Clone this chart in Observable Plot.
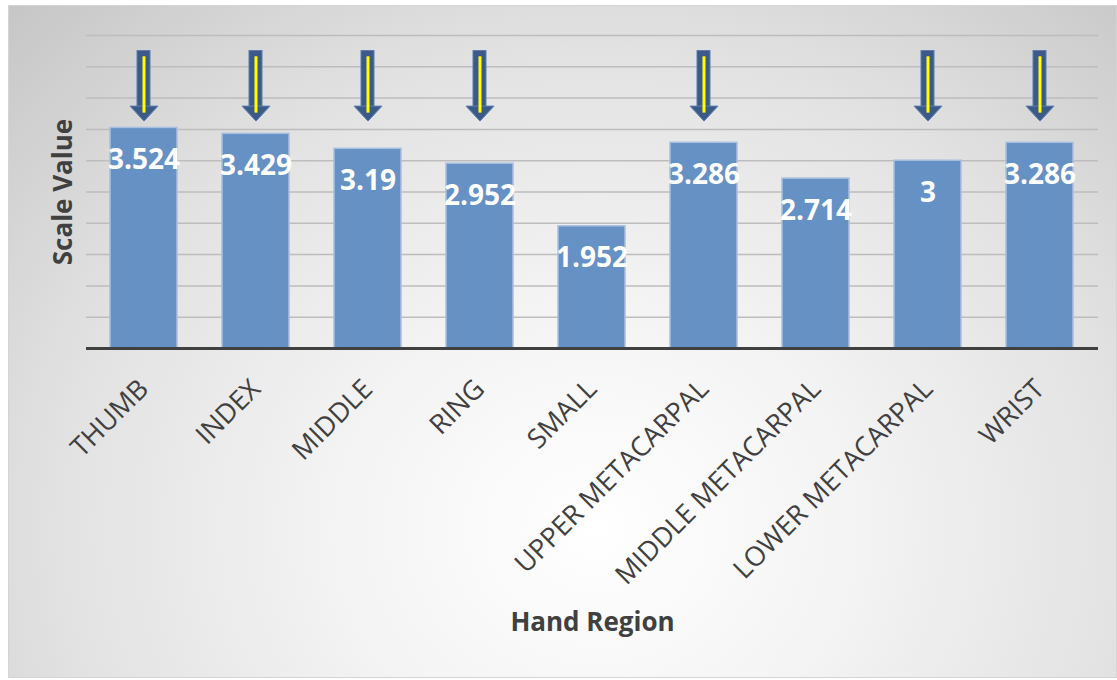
<!DOCTYPE html>
<html>
<head>
<meta charset="utf-8">
<script src="https://cdn.jsdelivr.net/npm/d3@7"></script>
<script src="https://cdn.jsdelivr.net/npm/@observablehq/plot@0.6"></script>
<style>
  html, body { margin: 0; padding: 0; background: #ffffff; }
  #wrap { position: relative; width: 1117px; height: 680px; overflow: hidden; }
  #panel {
    position: absolute; left: 8px; top: 5px; width: 1107px; height: 671px;
    border: 1px solid #d4d4d4;
    background: radial-gradient(ellipse 75% 110% at 53% 78%, #ffffff 0%, #f4f4f4 30%, #e2e2e2 65%, #c6c6c6 100%);
  }
  #chart { position: absolute; left: 0; top: 0; }
  #chart svg { background: transparent !important; }
</style>
</head>
<body>
<div id="wrap">
  <div id="panel"></div>
  <div id="chart"></div>
</div>
<script>
const categories = ["THUMB", "INDEX", "MIDDLE", "RING", "SMALL", "UPPER METACARPAL", "MIDDLE METACARPAL", "LOWER METACARPAL", "WRIST"];
const values = [3.524, 3.429, 3.19, 2.952, 1.952, 3.286, 2.714, 3, 3.286];
const arrowCategories = ["THUMB", "INDEX", "MIDDLE", "RING", "UPPER METACARPAL", "LOWER METACARPAL", "WRIST"];
const gridTicks = [0.5, 1, 1.5, 2, 2.5, 3, 3.5, 4, 4.5, 5];
const xTitle = "Hand Region";
const yTitle = "Scale Value";

const data = categories.map((c, i) => ({category: c, value: values[i]}));

const arrowFill = "#3c5a89";
const arrowStroke = "#5b7cb0";
const downHead = {
  draw(ctx) {
    ctx.moveTo(-14, -1);
    ctx.lineTo(14, -1);
    ctx.lineTo(0, 14);
    ctx.closePath();
  }
};

const chart = Plot.plot({
  width: 1117,
  height: 680,
  marginLeft: 86,
  marginRight: 19,
  marginTop: 35,
  marginBottom: 332,
  style: {background: "transparent", fontFamily: "'Open Sans', sans-serif"},
  x: {domain: categories, paddingInner: 0.4, paddingOuter: 0.2},
  y: {domain: [0, 5], axis: null},
  marks: [
    Plot.ruleY(gridTicks, {stroke: "#bdbdbd", strokeWidth: 1.5}),
    Plot.barY(data, {x: "category", y: "value", fill: "#6591c5", stroke: "#a8c0df", strokeWidth: 1.5}),
    Plot.ruleY([0], {stroke: "#404040", strokeWidth: 3}),
    Plot.text(data, {x: "category", y: "value", text: d => String(d.value), dy: 32, fill: "#ffffff", fontSize: 28, fontWeight: "bold"}),
    Plot.barY(arrowCategories, {x: d => d, y1: 3.85, y2: 4.752, fill: arrowFill, stroke: arrowStroke, strokeWidth: 1, insetLeft: 27, insetRight: 27}),
    Plot.dot(arrowCategories, {x: d => d, y: 3.856, symbol: downHead, fill: arrowFill, stroke: arrowStroke, strokeWidth: 1}),
    Plot.ruleX(arrowCategories, {x: d => d, y1: 3.76, y2: 4.66, stroke: "#ffff00", strokeWidth: 3}),
    Plot.axisX({tickRotate: -45, tickSize: 0, tickPadding: 36, fontSize: 27, fill: "#404040", label: null}),
    Plot.text([yTitle], {frameAnchor: "left", textAnchor: "middle", dx: -23, rotate: -90, fontSize: 26, fontWeight: "bold", fill: "#404040"}),
    Plot.text([xTitle], {frameAnchor: "bottom", textAnchor: "middle", dy: 282, fontSize: 26, fontWeight: "bold", fill: "#404040"})
  ]
});
document.getElementById("chart").appendChild(chart);
</script>
</body>
</html>
